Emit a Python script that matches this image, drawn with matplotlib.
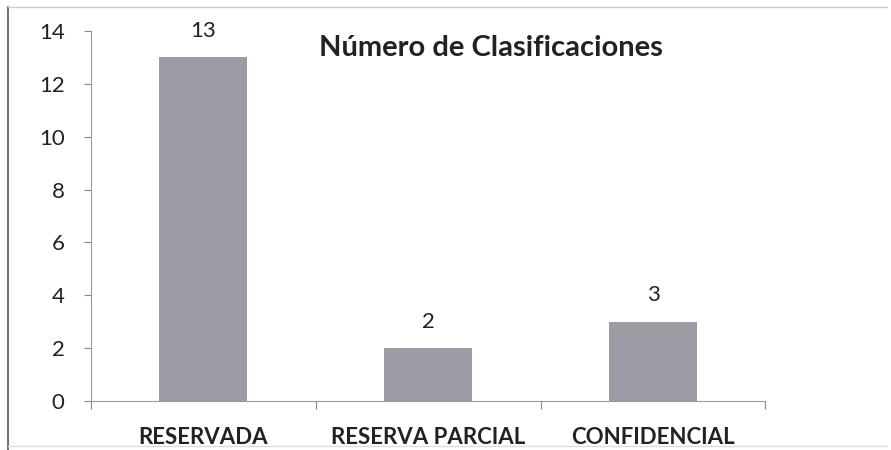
import matplotlib.pyplot as plt
from matplotlib.lines import Line2D
import numpy as np

categories = ["RESERVADA", "RESERVA PARCIAL", "CONFIDENCIAL"]
counts = [13, 2, 3]
title = "Número de Clasificaciones"

plt.rcParams['font.family'] = ['Lato', 'DejaVu Sans']

fig = plt.figure(figsize=(8.91, 4.5), dpi=100)
ax = fig.add_axes([0.102, 0.109, 0.757, 0.822])

x = np.arange(len(categories))
bars = ax.bar(x, counts, width=0.39, color="#9c9ca4", zorder=2)

# value labels above each bar
for bar, v in zip(bars, counts):
    ax.annotate(str(v), (bar.get_x() + bar.get_width() / 2, v),
                xytext=(0, 19), textcoords="offset points",
                ha="center", va="center", fontsize=16, color="#222222")

ax.set_xlim(-0.5, len(categories) - 0.5)
ax.set_ylim(0, 14)
ax.set_yticks(range(0, 15, 2))
ax.tick_params(axis="y", labelsize=16, colors="#222222", length=5, pad=14,
               color="#888888")

# category labels between boundary ticks
ax.set_xticks(np.arange(-0.5, len(categories)), labels=[""] * (len(categories) + 1))
ax.set_xticks(x, labels=categories, minor=True)
ax.tick_params(axis="x", which="major", length=6, color="#888888")
ax.tick_params(axis="x", which="minor", length=0, pad=19, labelsize=16, colors="#222222")
for lbl in ax.get_xticklabels(minor=True):
    lbl.set_fontweight("bold")

for side in ("top", "right"):
    ax.spines[side].set_visible(False)
for side in ("left", "bottom"):
    ax.spines[side].set_color("#999999")

ax.text(0.593, 0.954, title, transform=ax.transAxes, ha="center", va="center",
        fontsize=21, fontweight="bold", color="#222222")

# scanned frame around the chart
fig.add_artist(Line2D([0.009, 0.009], [0.0, 0.985], color="#555555", lw=1.2))
fig.add_artist(Line2D([0.009, 0.995], [0.985, 0.985], color="#cccccc", lw=1))
fig.add_artist(Line2D([0.009, 0.995], [0.008, 0.008], color="#dddddd", lw=1))

fig.savefig("out.png", dpi=100)
